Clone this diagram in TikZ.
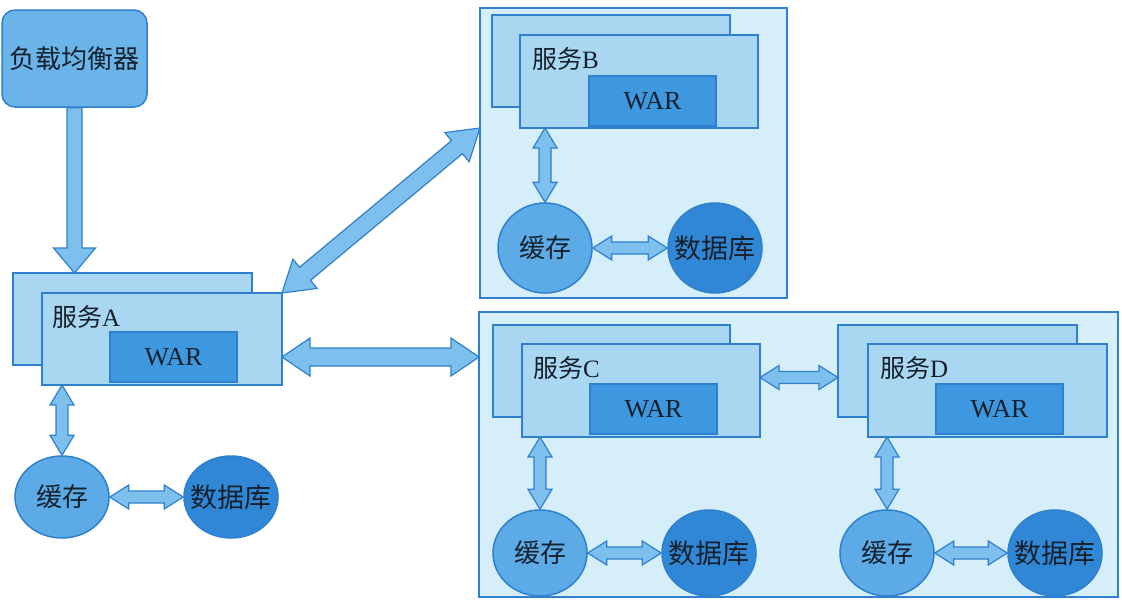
\documentclass[tikz,border=0pt]{standalone}
\usepackage{fontspec}
\setmainfont{Liberation Serif}
\newfontfamily\cjk{Noto Sans CJK SC}
\usetikzlibrary{calc,shapes.geometric}
\definecolor{linec}{HTML}{2F80CF}
\definecolor{lbfill}{HTML}{6AB4EA}
\definecolor{grpfill}{HTML}{D5EEF9}
\definecolor{svcfill}{HTML}{A9D7F2}
\definecolor{warfill}{HTML}{3D98E0}
\definecolor{cachefill}{HTML}{5CAAE6}
\definecolor{dbfill}{HTML}{2F87D6}
\definecolor{arrfill}{HTML}{7DC0EE}
\definecolor{txtc}{HTML}{16202B}
\tikzset{
  box/.style={draw=linec, line width=1.5pt, inner sep=0pt, outer sep=0pt, anchor=north west},
  grp/.style={box, fill=grpfill},
  svc/.style={box, fill=svcfill},
  warbox/.style={box, fill=warfill, minimum width=127pt, minimum height=50pt,
    font=\fontsize{26}{28}\selectfont, text=txtc},
  lbbox/.style={draw=linec, line width=1.5pt, fill=lbfill, rounded corners=13pt,
    minimum width=145pt, minimum height=97pt, inner sep=0pt,
    font=\cjk\fontsize{26}{28}\selectfont, text=txtc},
  cachenode/.style={ellipse, draw=linec, line width=1.5pt, fill=cachefill, inner sep=0pt,
    minimum width=94pt, minimum height=86pt},
  dbnode/.style={cachenode, fill=dbfill},
  ctext/.style={label={[text=txtc, inner sep=0pt, font=\cjk\fontsize{26}{28}\selectfont]center:#1}},
  dtext/.style={label={[text=txtc, inner sep=0pt, font=\cjk\fontsize{27}{29}\selectfont]center:#1}},
  svclabel/.style={anchor=west, inner sep=0pt, text=txtc, font=\fontsize{25}{27}\selectfont},
  blk/.style={draw=linec, fill=arrfill, line width=1.2pt, line join=miter},
}
% double-headed block arrow: #1 from, #2 to, #3 shaft half width, #4 head half width, #5 head length
\newcommand\dblarrow[5]{%
\draw[blk] (#1) -- ($(#1)!#5!(#2)!#4!90:(#2)$) -- ($(#1)!#5!(#2)!#3!90:(#2)$)
  -- ($(#2)!#5!(#1)!#3!-90:(#1)$) -- ($(#2)!#5!(#1)!#4!-90:(#1)$) -- (#2)
  -- ($(#2)!#5!(#1)!#4!90:(#1)$) -- ($(#2)!#5!(#1)!#3!90:(#1)$)
  -- ($(#1)!#5!(#2)!#3!-90:(#2)$) -- ($(#1)!#5!(#2)!#4!-90:(#2)$) -- cycle;}
% single-headed block arrow
\newcommand\sglarrow[5]{%
\draw[blk] ($(#1)!#3!90:(#2)$) -- ($(#2)!#5!(#1)!#3!-90:(#1)$) -- ($(#2)!#5!(#1)!#4!-90:(#1)$)
  -- (#2) -- ($(#2)!#5!(#1)!#4!90:(#1)$) -- ($(#2)!#5!(#1)!#3!90:(#1)$)
  -- ($(#1)!#3!-90:(#2)$) -- cycle;}
\begin{document}
\begin{tikzpicture}[x=1pt,y=-1pt]
\useasboundingbox[fill=white] (0,0) rectangle (1122,600);

% load balancer
\node[lbbox] (lb) at (74.5,58.5) {负载均衡器};

% group containers
\node[grp, minimum width=307pt, minimum height=290pt] (gb) at (480,8) {};
\node[grp, minimum width=639pt, minimum height=285pt] (gcd) at (479,312) {};

% service A
\node[svc, minimum width=239pt, minimum height=92pt] (ba) at (13,273) {};
\node[svc, minimum width=240pt, minimum height=92pt] (fa) at (42,293) {};
\node[warbox] (wa) at (110,332) {WAR};
\node[svclabel] (la) at (52,317) {{\cjk 服务}A};

% service B
\node[svc, minimum width=238pt, minimum height=92pt] (bb) at (492,15) {};
\node[svc, minimum width=238pt, minimum height=93pt] (fb) at (520,35) {};
\node[warbox] (wb) at (589,76) {WAR};
\node[svclabel] (lbl) at (532,59) {{\cjk 服务}B};

% service C
\node[svc, minimum width=237pt, minimum height=92pt] (bc) at (493,325) {};
\node[svc, minimum width=238pt, minimum height=93pt] (fc) at (522,344) {};
\node[warbox] (wc) at (590,384) {WAR};
\node[svclabel] (lc) at (533,368) {{\cjk 服务}C};

% service D
\node[svc, minimum width=239pt, minimum height=92pt] (bd) at (838,325) {};
\node[svc, minimum width=239pt, minimum height=93pt] (fd) at (868,344) {};
\node[warbox] (wd) at (936,384) {WAR};
\node[svclabel] (ld) at (880,368) {{\cjk 服务}D};

% caches and databases
\node[cachenode, minimum height=82pt, ctext=缓存] (ca) at (62,497) {};
\node[dbnode, minimum height=82pt, dtext=数据库] (da) at (231,497) {};
\node[cachenode, minimum height=90pt, ctext=缓存] (cb) at (545,248) {};
\node[dbnode, minimum height=90pt, dtext=数据库] (db) at (715,248) {};
\node[cachenode, ctext=缓存] (cc) at (540,553) {};
\node[dbnode, dtext=数据库] (dc) at (709,553) {};
\node[cachenode, ctext=缓存] (cd) at (887,553) {};
\node[dbnode, dtext=数据库] (dd) at (1055,553) {};

% connector end points
\coordinate (lbtip) at (lb.south |- ba.north);
\coordinate (acs) at (ca.north |- fa.south);
\coordinate (bcs) at (cb.north |- fb.south);
\coordinate (ccs) at (cc.north |- fc.south);
\coordinate (dcs) at (cd.north |- fd.south);
\coordinate (abend) at (gb.west |- fb.south);
\coordinate (acstart) at (fa.east |- wa.center);
\coordinate (acend) at (gcd.west |- wa.center);
\coordinate (cdstart) at ($(fc.north east)!0.36!(fc.south east)$);
\coordinate (cdend) at (bd.west |- cdstart);

% arrows
\sglarrow{lb.south}{lbtip}{7.5pt}{21pt}{25pt}
\dblarrow{fa.north east}{abend}{8.5pt}{19pt}{30pt}
\dblarrow{acstart}{acend}{9pt}{19pt}{28pt}
\dblarrow{cdstart}{cdend}{6pt}{12pt}{19pt}
\dblarrow{acs}{ca.north}{6pt}{12pt}{20pt}
\dblarrow{bcs}{cb.north}{6pt}{12pt}{20pt}
\dblarrow{ccs}{cc.north}{6pt}{12pt}{20pt}
\dblarrow{dcs}{cd.north}{6pt}{12pt}{20pt}
\dblarrow{ca.east}{da.west}{6pt}{12pt}{19pt}
\dblarrow{cb.east}{db.west}{6pt}{12pt}{19pt}
\dblarrow{cc.east}{dc.west}{6pt}{12pt}{19pt}
\dblarrow{cd.east}{dd.west}{6pt}{12pt}{19pt}
\end{tikzpicture}
\end{document}
